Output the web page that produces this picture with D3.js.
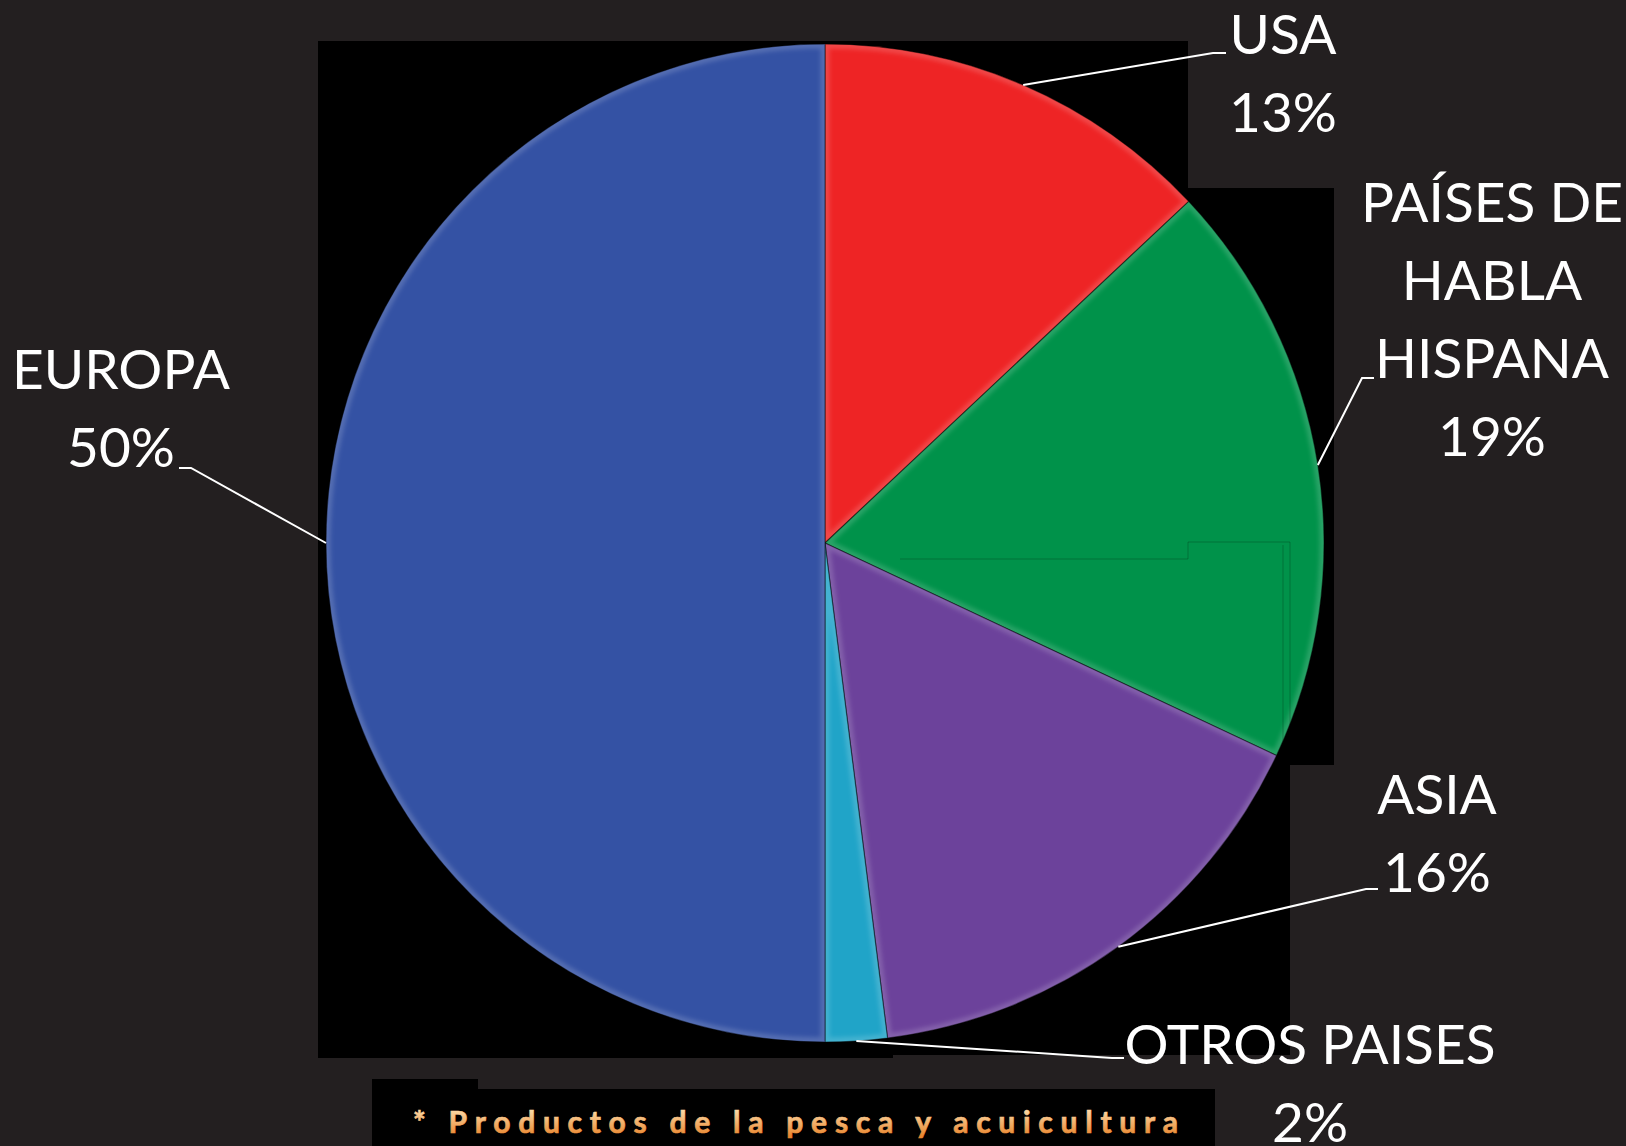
<!DOCTYPE html>
<html>
<head>
<meta charset="utf-8">
<script src="https://cdn.jsdelivr.net/npm/d3@7"></script>
<style>
  html, body { margin: 0; padding: 0; background: #231f20; }
  svg { display: block; }
</style>
</head>
<body>
<svg id="chart" width="1626" height="1146"></svg>
<script>
// Destination markets, share of exports (%)
const categories = ["USA", "PAÍSES DE HABLA HISPANA", "ASIA", "OTROS PAISES", "EUROPA"];
const shares = [13, 19, 16, 2, 50];
const labelLines = [["USA"], ["PAÍSES DE", "HABLA", "HISPANA"], ["ASIA"], ["OTROS PAISES"], ["EUROPA"]];
const footnote = "* Productos de la pesca y acuicultura";

// Slice colours, same order as categories
const colors = ["#ee2425", "#00924a", "#6c429b", "#20a4c8", "#3452a4"];

// Layout
const W = 1626, H = 1146;
const cx = 825, cy = 543, R = 499;
const lineStep = 78;
// label block: centre x, first baseline, leader knee and end
const labelLayout = {
  "USA":                     { x: 1283, y: 54,   knee: [1213, 53],  end: [1226, 53] },
  "PAÍSES DE HABLA HISPANA": { x: 1492, y: 222,  knee: [1362, 378], end: [1374, 378] },
  "ASIA":                    { x: 1437, y: 814,  knee: [1366, 889], end: [1378, 889] },
  "OTROS PAISES":            { x: 1310, y: 1064, knee: [1112, 1058], end: [1124, 1058] },
  "EUROPA":                  { x: 121,  y: 389,  knee: [191, 468],  end: [179, 468] }
};

const svg = d3.select("#chart");
const defs = svg.append("defs");

// background and the dark panels behind the pie and the footnote
svg.append("rect").attr("width", W).attr("height", H).attr("fill", "#231f20");
const panel = [[318,41],[1188,41],[1188,188],[1334,188],[1334,765],[1290,765],[1290,1055],[893,1055],[893,1058],[318,1058]];
svg.append("path").attr("d", d3.line()(panel) + "Z").attr("fill", "#000");
const foot = [[372,1079],[478,1079],[478,1089],[1215,1089],[1215,1146],[372,1146]];
svg.append("path").attr("d", d3.line()(foot) + "Z").attr("fill", "#000");

// soft bevel blur
defs.append("filter").attr("id", "soft")
  .attr("x", "-5%").attr("y", "-5%").attr("width", "110%").attr("height", "110%")
  .append("feGaussianBlur").attr("stdDeviation", 2.2);

const pie = d3.pie().sort(null).value(d => d.value).startAngle(0).endAngle(2 * Math.PI);
const data = categories.map((c, i) => ({ name: c, value: shares[i], color: colors[i], lines: labelLines[i] }));
const arcs = pie(data);
const arc = d3.arc().innerRadius(0).outerRadius(R);

const g = svg.append("g").attr("transform", `translate(${cx},${cy})`);

arcs.forEach((a, i) => {
  defs.append("clipPath").attr("id", "clip" + i)
    .append("path").attr("d", arc(a));
});

const slices = g.selectAll("g.slice").data(arcs).join("g").attr("class", "slice");
slices.append("path")
  .attr("d", arc)
  .attr("fill", d => d.data.color);
// light inner rim
slices.append("path")
  .attr("d", arc)
  .attr("clip-path", (d, i) => `url(#clip${i})`)
  .attr("fill", "none")
  .attr("stroke", "#ffffff")
  .attr("stroke-opacity", 0.16)
  .attr("stroke-width", 9)
  .attr("filter", "url(#soft)");
// dark seam between slices
slices.append("path")
  .attr("d", arc)
  .attr("fill", "none")
  .attr("stroke", "#000")
  .attr("stroke-opacity", 0.45)
  .attr("stroke-width", 1.2)
  .attr("stroke-linejoin", "round");

// faint panel seams visible through the green slice
const seam = svg.append("g").attr("fill", "none").attr("stroke", "#000").attr("stroke-opacity", 0.22).attr("stroke-width", 1);
seam.append("path").attr("d", d3.line()([[900,559],[1188,559],[1188,542],[1290,542],[1290,753]]));
seam.append("path").attr("d", d3.line()([[1283,545],[1283,753],[1327,753],[1327,190]]));

// leader lines and labels
const labels = svg.append("g");
arcs.forEach(a => {
  const L = labelLayout[a.data.name];
  const mid = (a.startAngle + a.endAngle) / 2;
  const p = [cx + R * Math.sin(mid), cy - R * Math.cos(mid)];
  labels.append("path")
    .attr("d", d3.line()([p, L.knee, L.end]))
    .attr("fill", "none")
    .attr("stroke", "#fff")
    .attr("stroke-width", 2);
  const lines = a.data.lines.concat([a.data.value + "%"]);
  const t = labels.append("text")
    .attr("text-anchor", "middle")
    .attr("fill", "#fff")
    .attr("font-family", "Lato, 'Open Sans', sans-serif")
    .attr("font-size", 55);
  lines.forEach((s, k) => {
    t.append("tspan").attr("x", L.x).attr("y", L.y + k * lineStep).text(s);
  });
});

// footnote
const grad = defs.append("linearGradient").attr("id", "footGrad")
  .attr("gradientUnits", "userSpaceOnUse").attr("x1", 0).attr("x2", 0).attr("y1", 1110).attr("y2", 1136);
grad.append("stop").attr("offset", 0).attr("stop-color", "#fcd9a6");
grad.append("stop").attr("offset", 1).attr("stop-color", "#e9862e");
svg.append("text")
  .attr("x", 413).attr("y", 1133)
  .attr("textLength", 765).attr("lengthAdjust", "spacing")
  .attr("font-family", "Lato, sans-serif")
  .attr("font-weight", 700)
  .attr("font-size", 30)
  .attr("fill", "url(#footGrad)")
  .attr("stroke", "url(#footGrad)")
  .attr("stroke-width", 0.7)
  .text(footnote);
</script>
</body>
</html>
